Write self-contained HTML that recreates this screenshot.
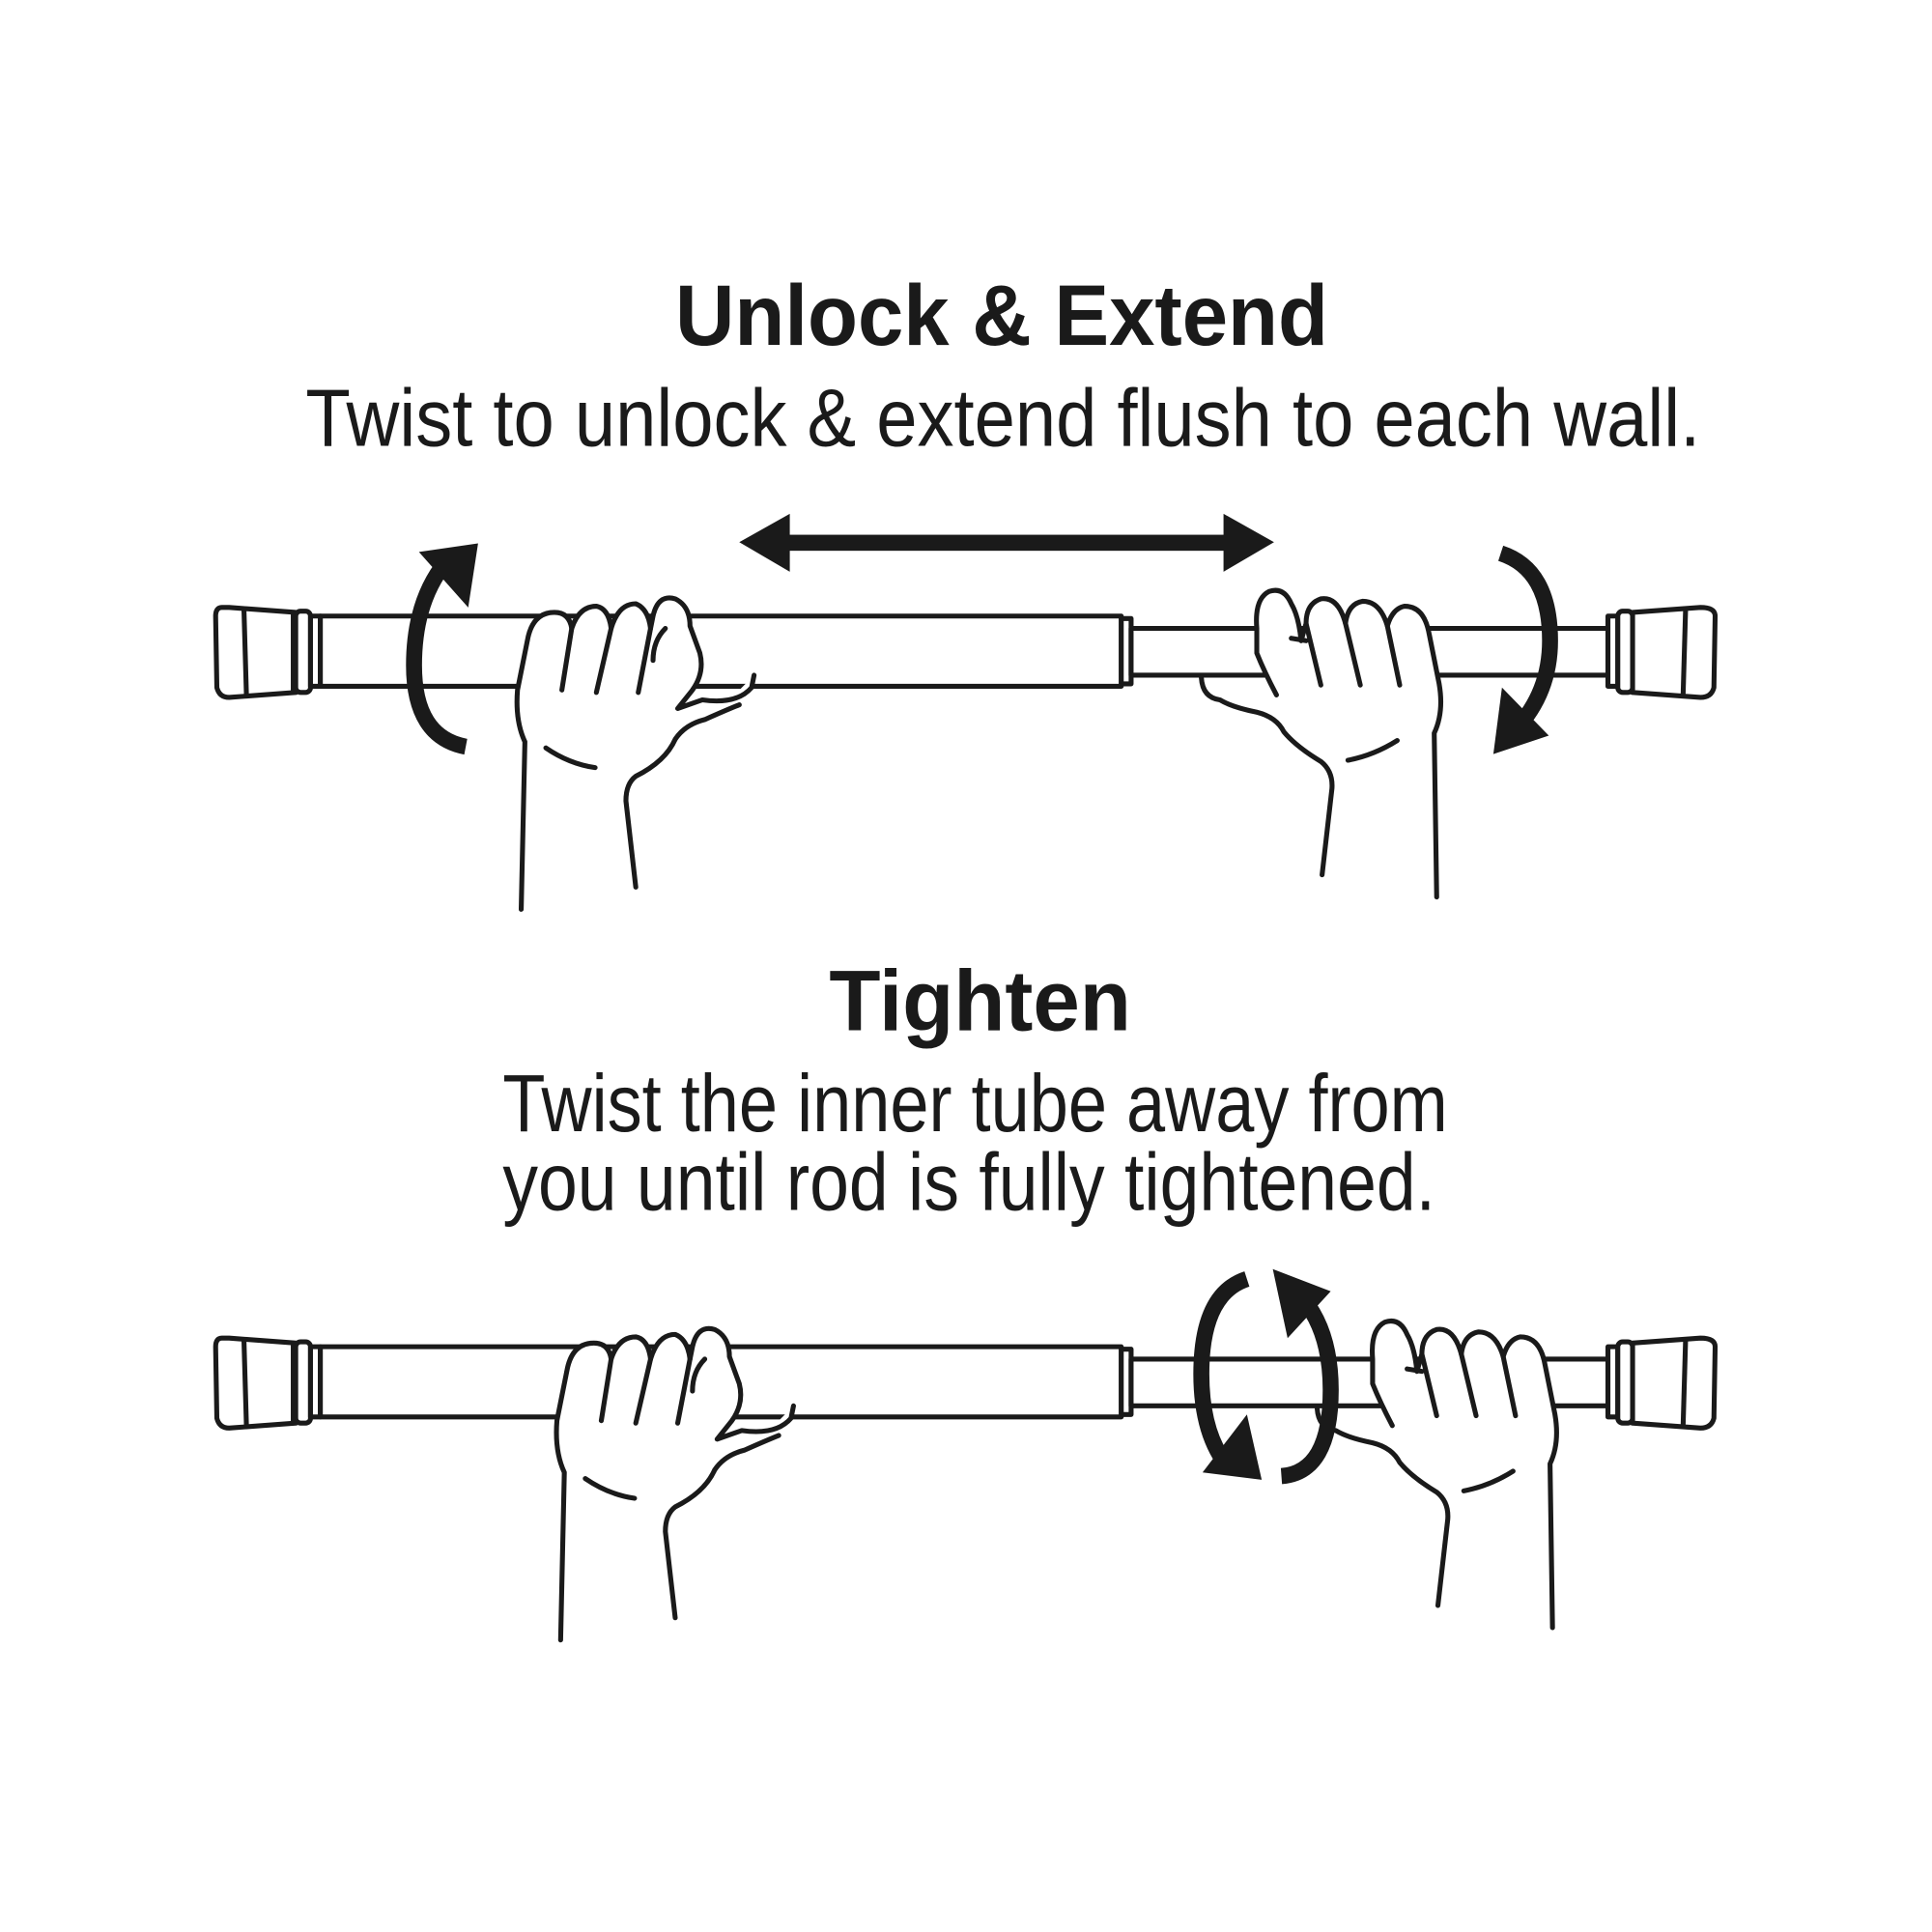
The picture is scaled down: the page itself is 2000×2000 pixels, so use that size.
<!DOCTYPE html>
<html><head><meta charset="utf-8"><style>
html,body{margin:0;padding:0;background:#fff;}
svg{display:block;}
text{font-family:"Liberation Sans",sans-serif;fill:#1a1a1a;}
</style></head><body>
<svg width="2000" height="2000" viewBox="0 0 1568 1568" xmlns="http://www.w3.org/2000/svg">
<rect width="1568" height="1568" fill="#fff"/>
<text x="813" y="280" font-size="70" font-weight="bold" text-anchor="middle" textLength="530" lengthAdjust="spacingAndGlyphs">Unlock &amp; Extend</text>
<text x="248" y="362" font-size="66" textLength="1132" lengthAdjust="spacingAndGlyphs">Twist to unlock &amp; extend flush to each wall.</text>
<text x="673" y="836" font-size="70" font-weight="bold" textLength="245" lengthAdjust="spacingAndGlyphs">Tighten</text>
<text x="408" y="918" font-size="66" textLength="767" lengthAdjust="spacingAndGlyphs">Twist the inner tube away from</text>
<text x="408" y="982" font-size="66" textLength="757" lengthAdjust="spacingAndGlyphs">you until rod is fully tightened.</text>

<defs>
<g id="rod" fill="#fff" stroke="#1a1a1a" stroke-width="4" stroke-linejoin="round">
  <!-- left cap -->
  <path d="M180 493 Q175 493 175 500 L176 558 Q178 566 186 566 L240 562 L240 497 L186 493 Z"/>
  <path d="M198 495 L200 564 M238 497 L238 562"/>
  <rect x="240" y="496" width="12" height="66" rx="4"/>
  <rect x="252" y="500" width="8" height="57"/>
  <!-- outer tube -->
  <rect x="260" y="500" width="650" height="57"/>
  <rect x="910" y="502" width="8" height="53"/>
  <!-- inner tube -->
  <rect x="918" y="510" width="387" height="38"/>
  <!-- right cap -->
  <rect x="1305" y="500" width="8" height="57"/>
  <rect x="1313" y="496" width="12" height="66" rx="4"/>
  <path d="M1325 497 L1380 493 Q1392 493 1392 500 L1391 558 Q1389 566 1380 566 L1325 562 Z"/>
  <path d="M1368 495 L1366 564"/>
</g>
<g id="lhand" fill="#fff" stroke="#1a1a1a" stroke-width="4" stroke-linejoin="round" stroke-linecap="round">
  <path d="M423 738 L426 602 Q418 585 420 560 L428 520 Q432 497 450 497 Q462 497 464 510 Q470 492 484 492 Q494 494 496 510 Q502 490 516 490 Q526 494 528 510 L530 500 Q534 482 548 486 Q560 492 560 508 L568 530 Q572 546 562 560 L550 575 L570 568 Q598 572 610 558 L612 548"/>
  <path d="M464 510 L456 560 M496 510 L484 562 M528 510 L518 562 M540 510 Q530 520 530 536"/>
  <path d="M443 607 Q462 620 483 623"/>
  <path d="M516 720 L508 650 Q508 636 516 630 Q540 618 548 600 Q556 588 572 584 Q590 576 600 572"/>
</g>
<g id="rhand" fill="#fff" stroke="#1a1a1a" stroke-width="4" stroke-linejoin="round" stroke-linecap="round">
  <path d="M1166 728 L1164 595 Q1172 578 1168 555 L1160 515 Q1156 492 1140 492 Q1130 494 1126 508 Q1120 488 1106 488 Q1094 490 1092 506 Q1086 484 1072 486 Q1060 490 1060 506 L1056 520 Q1054 500 1048 490 Q1042 476 1030 480 Q1018 486 1020 510 L1020 530 Q1026 545 1036 564"/>
  <path d="M1126 508 L1136 556 M1092 506 L1104 556 M1060 506 L1072 556 M1048 518 L1060 520"/>
  <path d="M1094 617 Q1115 613 1134 601"/>
  <path d="M1073 710 L1081 640 Q1082 626 1072 618 Q1052 606 1042 594 Q1036 582 1020 578 Q1000 574 990 568 Q976 566 975 550"/>
</g>
</defs>

<use href="#rod"/>
<use href="#lhand"/>
<use href="#rhand"/>

<g transform="translate(0,593)">
  <use href="#rod"/>
  <use href="#lhand" transform="translate(32,0)"/>
  <use href="#rhand" transform="translate(94,0)"/>
</g>

<!-- double arrow -->
<g fill="#1a1a1a">
  <rect x="630" y="434" width="370" height="13"/>
  <polygon points="600,440 641,417 641,464"/>
  <polygon points="1034,440 993,417 993,464"/>
</g>

<!-- left rotate arrow -->
<path d="M378 606 Q336 598 336 540 Q336 488 362 456" fill="none" stroke="#1a1a1a" stroke-width="13"/>
<polygon points="340,448 388,441 380,493" fill="#1a1a1a"/>
<!-- right rotate arrow -->
<path d="M1218 449 Q1258 462 1258 520 Q1258 562 1230 592" fill="none" stroke="#1a1a1a" stroke-width="13"/>
<polygon points="1257,597 1212,612 1219,558" fill="#1a1a1a"/>

<!-- bottom arrows -->
<path d="M1012 1038 Q975 1050 975 1115 Q975 1165 998 1192" fill="none" stroke="#1a1a1a" stroke-width="13"/>
<polygon points="976,1195 1024,1201 1012,1148" fill="#1a1a1a"/>
<path d="M1040 1198 Q1080 1195 1080 1128 Q1080 1078 1054 1050" fill="none" stroke="#1a1a1a" stroke-width="13"/>
<polygon points="1033,1030 1080,1048 1045,1086" fill="#1a1a1a"/>
</svg>
</body></html>
